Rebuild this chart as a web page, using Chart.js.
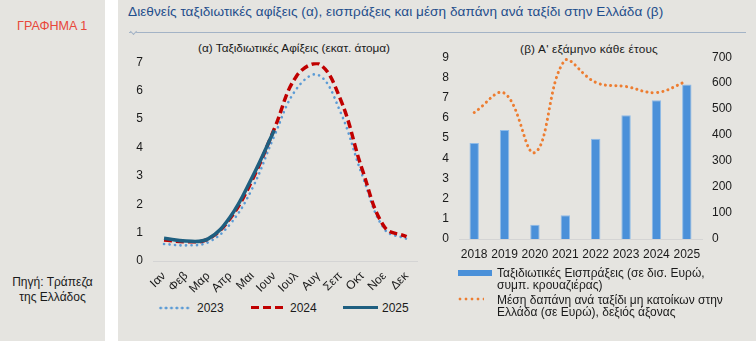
<!DOCTYPE html>
<html>
<head>
<meta charset="utf-8" />
<title>Γράφημα 1</title>
<script src="https://cdn.jsdelivr.net/npm/chart.js@4.4.1/dist/chart.umd.min.js"></script>
<style>
    body, html {
        margin: 0;
        padding: 0;
        width: 756px;
        height: 341px;
        overflow: hidden;
        background: #ffffff;
        font-family: "Liberation Sans", Arial, sans-serif;
    }
    #side {
        position: absolute; left: 0; top: 0; width: 105px; height: 341px;
        background: #e5e4e0;
    }
    #main {
        position: absolute; left: 118px; top: 0; width: 638px; height: 341px;
        background: #e5e4e0;
    }
    .abs { position: absolute; white-space: nowrap; }
    #graphLabel { left: 17px; top: 19px; color: #e8473a; font-size: 12.6px; }
    #source { left: 0; width: 105px; top: 275px; text-align: center; font-size: 12px; line-height: 15px; color: #1a1a1a; }
    #mainTitle { left: 128px; top: 4px; color: #1f4e8c; font-size: 13.6px; letter-spacing: 0.05px; }
    #rule { left: 129px; top: 32px; width: 617px; height: 0; border-top: 1px solid #a3b3c6; }
    #notch { left: 131px; top: 29px; width: 4px; height: 4px; border-right: 1px solid #a3b3c6; border-bottom: 1px solid #a3b3c6; transform: rotate(45deg); background: #e5e4e0; }
    .ctitle { font-size: 11.8px; color: #1a1a1a; }
    #titleA { left: 198px; top: 41px; }
    #titleB { left: 520px; top: 42px; letter-spacing: 0.2px; }
    #leftBox { left: 120px; top: 45px; width: 305px; height: 255px; }
    #rightBox { left: 425px; top: 40px; width: 331px; height: 228px; }
    .leg { font-size: 12px; color: #1a1a1a; line-height: 12px; }
    .sample { position: absolute; }
</style>
</head>
<body>
<div id="side"></div>
<div id="main"></div>
<div class="abs" id="graphLabel">ΓΡΑΦΗΜΑ 1</div>
<div class="abs" id="source">Πηγή: Τράπεζα<br>της Ελλάδος</div>
<div class="abs" id="mainTitle">Διεθνείς ταξιδιωτικές αφίξεις (α), εισπράξεις και μέση δαπάνη ανά ταξίδι στην Ελλάδα (β)</div>
<div class="abs" id="rule"></div>
<div class="abs" id="notch"></div>
<div class="abs ctitle" id="titleA">(α) Ταξιδιωτικές Αφίξεις (εκατ. άτομα)</div>
<div class="abs ctitle" id="titleB">(β) Α' εξάμηνο κάθε έτους</div>

<div class="abs" id="leftBox"><canvas id="leftChart" width="305" height="255"></canvas></div>
<div class="abs" id="rightBox"><canvas id="rightChart" width="331" height="228"></canvas></div>

<div class="abs" id="legLeft"></div>
<div class="abs" id="legRight"></div>

<script>
    // --- data ---
    const months = ['Ιαν', 'Φεβ', 'Μαρ', 'Απρ', 'Μαι', 'Ιουν', 'Ιουλ', 'Αυγ', 'Σεπ', 'Οκτ', 'Νοε', 'Δεκ'];
    const arrivals2023 = [0.60, 0.55, 0.66, 1.30, 2.55, 4.40, 6.05, 6.55, 5.25, 3.00, 1.12, 0.78];
    const arrivals2024 = [0.74, 0.68, 0.77, 1.50, 2.85, 4.65, 6.50, 6.95, 5.70, 3.20, 1.20, 0.86];
    const arrivals2025 = [0.80, 0.70, 0.78, 1.55, 2.95, 4.60];

    const years = ['2018', '2019', '2020', '2021', '2022', '2023', '2024', '2025'];
    const receipts = [4.75, 5.39, 0.71, 1.17, 4.96, 6.13, 6.87, 7.65];      // δισ. ευρώ
    const spendPerTrip = [487, 561, 333, 690, 603, 587, 564, 608];        // ευρώ, δεξιός άξονας

    const tickFont = { family: "'Liberation Sans', Arial, sans-serif", size: 12 };
    const tickColor = '#1a1a1a';
    const axisLine = '#d4d4d4';

    Chart.defaults.animation = false;
    Chart.defaults.font.family = "'Liberation Sans', Arial, sans-serif";

    // (α) left chart: plot area 153..418 x 62..261
    // note: y-axis adds label/2 + tick padding (~17px) above the plot area
    new Chart(document.getElementById('leftChart').getContext('2d'), {
        type: 'line',
        data: {
            labels: months,
            datasets: [
                {
                    label: '2023', data: arrivals2023,
                    borderColor: '#5b9bd5', borderWidth: 2.6,
                    borderDash: [0.1, 5.4], borderCapStyle: 'round',
                    pointRadius: 0, tension: 0.4, fill: false, order: 2
                },
                {
                    label: '2024', data: arrivals2024,
                    borderColor: '#c00000', borderWidth: 3.5,
                    borderDash: [8, 4], pointRadius: 0, tension: 0.4, fill: false, order: 1
                },
                {
                    label: '2025', data: arrivals2025,
                    borderColor: '#1f5f80', borderWidth: 3.5,
                    pointRadius: 0, tension: 0.4, fill: false, order: 0
                }
            ]
        },
        options: {
            responsive: false,
            maintainAspectRatio: false,
            layout: { padding: { left: 0, right: 7, top: 0, bottom: 0 } },
            scales: {
                x: {
                    offset: true,
                    grid: { display: false, drawTicks: false },
                    border: { display: true, color: axisLine, width: 1 },
                    ticks: { color: tickColor, font: tickFont, autoSkip: false, minRotation: 45, maxRotation: 45, padding: 8 },
                    afterFit: s => { s.height = 39; }
                },
                y: {
                    min: 0, max: 7,
                    grid: { display: false, drawTicks: false },
                    border: { display: false },
                    ticks: { stepSize: 1, color: tickColor, font: tickFont, padding: 10 },
                    afterFit: s => { s.width = 33; }
                }
            },
            plugins: {
                legend: { display: false },
                tooltip: { enabled: false }
            }
        }
    });

    // (β) right chart: plot area 459..702 x 57..239
    new Chart(document.getElementById('rightChart').getContext('2d'), {
        data: {
            labels: years,
            datasets: [
                {
                    type: 'bar',
                    label: 'Ταξιδιωτικές Εισπράξεις (σε δισ. Ευρώ, συμπ. κρουαζιέρας)',
                    data: receipts, yAxisID: 'y',
                    backgroundColor: '#4a90d9', borderColor: '#8fbbe8', borderWidth: 1,
                    barPercentage: 0.31, categoryPercentage: 1, order: 1
                },
                {
                    type: 'line',
                    label: 'Μέση δαπάνη ανά ταξίδι μη κατοίκων στην Ελλάδα (σε Ευρώ), δεξιός άξονας',
                    data: spendPerTrip, yAxisID: 'y1',
                    borderColor: '#ed7d31', borderWidth: 3,
                    borderDash: [0.1, 5.2], borderCapStyle: 'round',
                    pointRadius: 0, tension: 0.4, fill: false, order: 0
                }
            ]
        },
        options: {
            responsive: false,
            maintainAspectRatio: false,
            layout: { padding: { left: 0, right: 14, top: 0, bottom: 0 } },
            scales: {
                x: {
                    grid: { display: false, drawTicks: false },
                    border: { display: true, color: axisLine, width: 1 },
                    ticks: { color: tickColor, font: tickFont, maxRotation: 0, autoSkip: false, padding: 8 },
                    afterFit: s => { s.height = 29; }
                },
                y: {
                    position: 'left', min: 0, max: 9,
                    grid: { display: false, drawTicks: false },
                    border: { display: false },
                    ticks: { stepSize: 1, color: tickColor, font: tickFont, padding: 10 },
                    afterFit: s => { s.width = 34; }
                },
                y1: {
                    position: 'right', min: 0, max: 700,
                    grid: { display: false, drawTicks: false },
                    border: { display: false },
                    ticks: { stepSize: 100, color: tickColor, font: tickFont, padding: 10 },
                    afterFit: s => { s.width = 40; }
                }
            },
            plugins: {
                legend: { display: false },
                tooltip: { enabled: false }
            }
        }
    });

    // html legends
    function sample(x, y, w, h, css) {
        return '<div class="sample" style="left:' + x + 'px;top:' + y + 'px;width:' + w + 'px;height:' + h + 'px;' + css + '"></div>';
    }
    function text(x, y, t) {
        return '<div class="abs leg" style="left:' + x + 'px;top:' + y + 'px;">' + t + '</div>';
    }
    const dots = (c, step) => 'background:radial-gradient(circle,' + c + ' 1.2px,transparent 1.7px) repeat-x;background-size:' + step + 'px 4px;';

    document.getElementById('legLeft').innerHTML =
        sample(158, 306, 32, 4, dots('#5b9bd5', 5.4)) + text(197, 302, '2023') +
        sample(251, 306, 32, 3, 'background:repeating-linear-gradient(90deg,#c00000 0 8px,transparent 8px 12px);') + text(290, 302, '2024') +
        sample(343, 306, 35, 3, 'background:#1f5f80;') + text(382, 302, '2025');

    document.getElementById('legRight').innerHTML =
        sample(458, 270, 34, 6, 'background:#4a90d9;') +
        text(497, 267, 'Ταξιδιωτικές Εισπράξεις (σε δισ. Ευρώ,<br>συμπ. κρουαζιέρας)') +
        sample(457, 297, 27, 4, dots('#ed7d31', 6)) +
        text(497, 294, 'Μέση δαπάνη ανά ταξίδι μη κατοίκων στην<br>Ελλάδα (σε Ευρώ), δεξιός άξονας');
</script>
</body>
</html>
